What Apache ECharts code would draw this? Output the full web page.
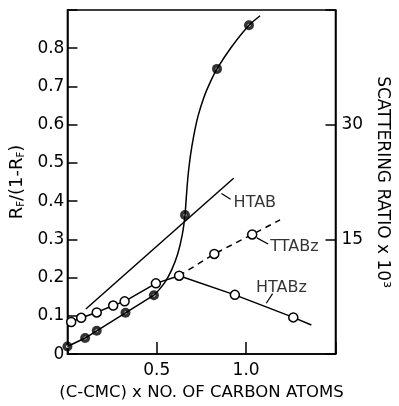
<!DOCTYPE html>
<html>
<head>
<meta charset="utf-8">
<script src="https://cdn.jsdelivr.net/npm/echarts@6/dist/echarts.min.js"></script>
<style>
  html, body { margin: 0; padding: 0; background: #fff; }
  #chart { width: 399px; height: 406px; }
</style>
</head>
<body>
<div id="chart"></div>
<script>
// Filled circles: measured ratios (left axis)
const filledPoints = [[0.0, 0.02], [0.099, 0.042], [0.164, 0.061], [0.325, 0.108], [0.484, 0.154], [0.658, 0.364], [0.837, 0.746], [1.016, 0.86]];
// Straight segments joining the low-concentration filled points
const filledLow = [[0.0, 0.02], [0.099, 0.042], [0.164, 0.061], [0.325, 0.108], [0.484, 0.154]];
// Hand-drawn rising curve through the upper filled points
const filledCurve = [[0.484, 0.154], [0.512, 0.168], [0.547, 0.189], [0.582, 0.219], [0.617, 0.262], [0.643, 0.313],
  [0.658, 0.364], [0.666, 0.415], [0.675, 0.467], [0.688, 0.518], [0.706, 0.569], [0.73, 0.621], [0.764, 0.672],
  [0.8, 0.712], [0.837, 0.746], [0.913, 0.8], [1.016, 0.86], [1.078, 0.885]];
// HTAB straight line
const htabLine = [[0.103, 0.118], [0.93, 0.46]];
// Open circles joined by a solid line (HTABz), ending in a short tail
const openPoints = [[0.021, 0.084], [0.077, 0.095], [0.164, 0.109], [0.256, 0.127], [0.32, 0.138], [0.495, 0.185], [0.625, 0.205], [0.937, 0.155], [1.264, 0.096]];
const htabzTail = [1.365, 0.076];
// TTABz dashed line with its open circles
const ttabzPoints = [[0.822, 0.262], [1.034, 0.313]];
const ttabzStart = [0.625, 0.205];
const ttabzEnd = [1.19, 0.351];
// Curve labels and their leader strokes
const curveLabels = [
  { name: 'HTAB', value: [0.93, 0.396] },
  { name: 'TTABz', value: [1.135, 0.28] },
  { name: 'HTABz', value: [1.055, 0.173] }
];
const leaderHTAB = [[0.862, 0.42], [0.913, 0.405]];
const leaderTTABz = [[1.06, 0.304], [1.123, 0.288]];
const leaderHTABz = [[1.113, 0.133], [1.148, 0.158]];
// Axis tick labels
const xTickLabels = { '0.5': '0.5', '1': '1.0' };
const leftTickMax = 0.8;
const rightTickLabels = { '15': '15', '30': '30' };

const FONT = 'DejaVu Sans';
const ink = '#000';

const chart = echarts.init(document.getElementById('chart'), null, { renderer: 'canvas' });

const plainLine = (data, extra) => Object.assign({
  type: 'line', data: data, symbol: 'none', silent: true, animation: false,
  lineStyle: { color: ink, width: 1.5 }
}, extra || {});

chart.setOption({
  animation: false,
  backgroundColor: '#fff',
  textStyle: { fontFamily: FONT, color: ink },
  grid: { left: 62, right: 52, top: 10, bottom: 44, show: true, borderColor: ink, borderWidth: 1.5, backgroundColor: 'transparent' },
  xAxis: {
    type: 'value', min: 0, max: 1.5, interval: 0.5,
    name: '(C-CMC) x NO. OF CARBON ATOMS', nameLocation: 'middle', nameGap: 28,
    nameTextStyle: { fontFamily: FONT, fontSize: 16.5, color: ink },
    axisLine: { lineStyle: { color: ink, width: 1.5 } },
    axisTick: { inside: true, length: 12, lineStyle: { color: ink, width: 1.5 } },
    axisLabel: { margin: 8, fontFamily: FONT, fontSize: 17, color: ink,
      formatter: v => xTickLabels[String(v)] || '' },
    splitLine: { show: false }
  },
  yAxis: [
    {
      type: 'value', min: 0, max: 0.9, interval: 0.1, position: 'left',
      name: '{b|R}{s|F}{b|/(1-R}{s|F}{b|)}', nameLocation: 'middle', nameGap: 36,
      nameTextStyle: { fontFamily: FONT, fontSize: 18, color: ink,
        rich: { b: { fontFamily: FONT, fontSize: 18, color: ink }, s: { fontFamily: FONT, fontSize: 10, color: ink, verticalAlign: 'bottom', padding: [9, 0, 0, 0] } } },
      axisLine: { lineStyle: { color: ink, width: 1.5 } },
      axisTick: { inside: true, length: 10, lineStyle: { color: ink, width: 1.5 } },
      axisLabel: { margin: 3, fontFamily: FONT, fontSize: 17, color: ink,
        formatter: v => v === 0 ? '0' : (v > leftTickMax + 0.01 ? '' : v.toFixed(1)) },
      splitLine: { show: false }
    },
    {
      type: 'value', min: 0, max: 45, interval: 15, position: 'right',
      name: 'SCATTERING RATIO x 10³', nameLocation: 'middle', nameGap: 33, nameRotate: -90,
      nameTextStyle: { fontFamily: FONT, fontSize: 17, color: ink },
      axisLine: { lineStyle: { color: ink, width: 1.5 } },
      axisTick: { inside: true, length: 10, lineStyle: { color: ink, width: 1.5 } },
      axisLabel: { margin: 6, fontFamily: FONT, fontSize: 17, color: ink,
        formatter: v => rightTickLabels[String(v)] || '' },
      splitLine: { show: false }
    }
  ],
  series: [
    plainLine(htabLine),
    plainLine(filledLow),
    plainLine(filledCurve, { smooth: 0.2 }),
    plainLine([
      { value: ttabzStart, symbol: 'none' },
      ...ttabzPoints,
      { value: ttabzEnd, symbol: 'none' }
    ], {
      symbol: 'circle', symbolSize: 9, showSymbol: true,
      itemStyle: { color: '#fff', borderColor: ink, borderWidth: 1.5 },
      lineStyle: { color: ink, width: 1.5, type: [6, 5] }
    }),
    plainLine([...openPoints, { value: htabzTail, symbol: 'none' }], {
      symbol: 'circle', symbolSize: 9, showSymbol: true,
      itemStyle: { color: '#fff', borderColor: ink, borderWidth: 1.5 }
    }),
    {
      type: 'scatter', data: filledPoints, symbol: 'circle', symbolSize: 10, silent: true,
      itemStyle: { color: ink }
    },
    {
      type: 'scatter', data: filledPoints, symbol: 'circle', symbolSize: 3, silent: true,
      itemStyle: { color: '#fff' }
    },
    plainLine(leaderHTAB, { lineStyle: { color: ink, width: 1.2 } }),
    plainLine(leaderTTABz, { lineStyle: { color: ink, width: 1.2 } }),
    plainLine(leaderHTABz, { lineStyle: { color: ink, width: 1.2 } }),
    {
      type: 'scatter', data: curveLabels, symbolSize: 0, silent: true,
      label: { show: true, position: 'right', distance: 0, formatter: p => p.name,
        fontFamily: FONT, fontSize: 16, color: ink }
    }
  ]
});
</script>
</body>
</html>
